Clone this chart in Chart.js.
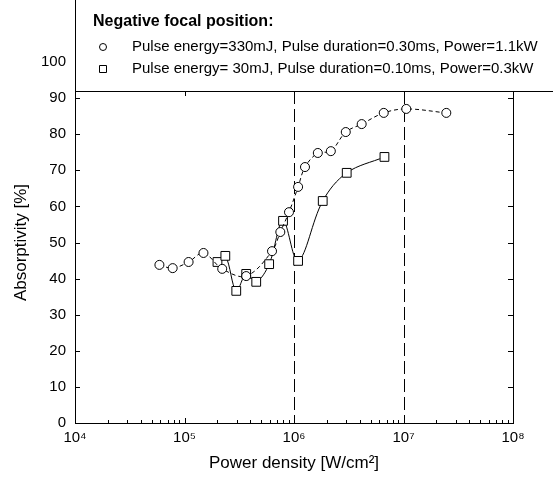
<!DOCTYPE html>
<html>
<head>
<meta charset="utf-8">
<script src="https://cdn.jsdelivr.net/npm/chart.js@4"></script>
<style>
  body { margin: 0; background: #fff; }
</style>
</head>
<body>
<canvas id="chart" width="553" height="482"></canvas>
<script>
// series 1: 330mJ / 0.30ms / 1.1kW (circles)
const circleX = [5.9e4, 7.8e4, 1.09e5, 1.49e5, 2.21e5, 3.66e5, 6.3e5, 7.5e5, 9.0e5, 1.09e6, 1.26e6, 1.65e6, 2.17e6, 2.97e6, 4.15e6, 6.6e6, 1.06e7, 2.46e7];
const circleY = [43.8, 42.9, 44.6, 47.1, 42.7, 40.7, 47.6, 52.9, 58.4, 65.4, 70.9, 74.8, 75.3, 80.6, 82.8, 85.9, 87.0, 85.9];
// series 2: 30mJ / 0.10ms / 0.3kW (squares)
const squareX = [2.0e5, 2.36e5, 2.97e5, 3.66e5, 4.52e5, 5.93e5, 7.94e5, 1.09e6, 1.83e6, 3.03e6, 6.7e6];
const squareY = [44.6, 46.3, 36.6, 41.3, 39.1, 44.0, 56.0, 44.9, 61.5, 69.3, 73.7];

const seriesLabels = [
    'Pulse energy=330mJ, Pulse duration=0.30ms, Power=1.1kW',
    'Pulse energy= 30mJ, Pulse duration=0.10ms, Power=0.3kW'
];
const legendTitle = 'Negative focal position:';

const xTicks = [1e4, 1e5, 1e6, 1e7, 1e8];
const xTickLabels = ['10\u2074', '10\u2075', '10\u2076', '10\u2077', '10\u2078'];
const yTicks = [0, 10, 20, 30, 40, 50, 60, 70, 80, 90, 100];
const markerLines = [1e6, 1e7];

Chart.defaults.font.family = '"Liberation Sans", Arial, sans-serif';
Chart.defaults.color = '#000';

const toPoints = (xs, ys) => xs.map((x, i) => ({x: x, y: ys[i]}));

const LEGEND_BOTTOM = 91;

const framePlugin = {
    id: 'frame',
    beforeDatasetsDraw(chart) {
        const ctx = chart.ctx;
        const a = chart.chartArea;
        const xs = chart.scales.x, ys = chart.scales.y;
        ctx.save();
        ctx.strokeStyle = '#000';
        ctx.lineWidth = 1;
        ctx.strokeRect(a.left + 0.5, a.top + 0.5, a.right - a.left, a.bottom - a.top);
        ctx.beginPath();
        // y ticks, inward on both sides
        yTicks.forEach(v => {
            const py = Math.round(ys.getPixelForValue(v)) + 0.5;
            ctx.moveTo(a.left, py); ctx.lineTo(a.left + 5, py);
            ctx.moveTo(a.right, py); ctx.lineTo(a.right - 5, py);
        });
        // x ticks, major and minor
        xTicks.forEach((v, i) => {
            const px = Math.round(xs.getPixelForValue(v)) + 0.5;
            ctx.moveTo(px, a.bottom); ctx.lineTo(px, a.bottom - 5);
            ctx.moveTo(px, LEGEND_BOTTOM); ctx.lineTo(px, LEGEND_BOTTOM + 5);
            if (i < xTicks.length - 1) {
                for (let m = 2; m < 10; m++) {
                    const mx = Math.round(xs.getPixelForValue(v * m)) + 0.5;
                    ctx.moveTo(mx, a.bottom); ctx.lineTo(mx, a.bottom - 3);
                }
            }
        });
        ctx.stroke();
        // dashed markers
        ctx.setLineDash([13, 5]);
        ctx.beginPath();
        markerLines.forEach(v => {
            const px = Math.round(xs.getPixelForValue(v)) + 0.5;
            ctx.moveTo(px, LEGEND_BOTTOM);
            ctx.lineTo(px, a.bottom);
        });
        ctx.stroke();
        ctx.restore();
    },
    afterDraw(chart) {
        const ctx = chart.ctx;
        const a = chart.chartArea;
        ctx.save();
        ctx.fillStyle = '#fff';
        ctx.fillRect(a.left, 0, chart.width - a.left, LEGEND_BOTTOM);
        ctx.strokeStyle = '#000';
        ctx.lineWidth = 1;
        ctx.beginPath();
        ctx.moveTo(a.left + 0.5, 0);
        ctx.lineTo(a.left + 0.5, LEGEND_BOTTOM + 0.5);
        ctx.lineTo(chart.width, LEGEND_BOTTOM + 0.5);
        ctx.stroke();
        ctx.fillStyle = '#000';
        ctx.textBaseline = 'middle';
        ctx.font = 'bold 16px "Liberation Sans", Arial, sans-serif';
        ctx.fillText(legendTitle, 93, 22);
        ctx.font = '15px "Liberation Sans", Arial, sans-serif';
        chart.data.datasets.forEach((ds, i) => {
            const y = 47 + i * 22;
            ctx.beginPath();
            if (ds.pointStyle === 'circle') {
                ctx.arc(103, y, 3.5, 0, Math.PI * 2);
            } else {
                ctx.rect(99.5, y - 3.5, 7, 7);
            }
            ctx.stroke();
            ctx.fillText(ds.label, 132, y);
        });
        ctx.restore();
    }
};

new Chart(document.getElementById('chart').getContext('2d'), {
    type: 'line',
    data: {
        datasets: [{
            label: seriesLabels[0],
            data: toPoints(circleX, circleY),
            borderColor: '#000',
            borderWidth: 1,
            borderDash: [4, 3],
            tension: 0.35,
            pointStyle: 'circle',
            pointRadius: 4.5,
            pointBackgroundColor: '#fff',
            pointBorderColor: '#000',
            pointBorderWidth: 1
        }, {
            label: seriesLabels[1],
            data: toPoints(squareX, squareY),
            borderColor: '#000',
            borderWidth: 1,
            tension: 0.35,
            pointStyle: 'rect',
            pointRadius: 6.2,
            pointBackgroundColor: '#fff',
            pointBorderColor: '#000',
            pointBorderWidth: 1
        }]
    },
    options: {
        responsive: false,
        animation: false,
        layout: { padding: { left: 0, right: 40, top: 62, bottom: 0 } },
        plugins: { legend: { display: false }, tooltip: { enabled: false } },
        scales: {
            x: {
                type: 'logarithmic',
                min: 1e4,
                max: 1e8,
                grid: { display: false, drawTicks: false },
                border: { display: false },
                afterBuildTicks: scale => { scale.ticks = xTicks.map(v => ({value: v})); },
                afterFit: scale => { scale.height = 59; },
                ticks: {
                    padding: 6,
                    maxRotation: 0,
                    font: { size: 15 },
                    callback: (v, i) => xTickLabels[i]
                },
                title: {
                    display: true,
                    text: 'Power density [W/cm\u00b2]',
                    font: { size: 17 },
                    padding: { top: 0, bottom: 8 }
                }
            },
            y: {
                min: 0,
                max: 100,
                grid: { display: false, drawTicks: false },
                border: { display: false },
                afterBuildTicks: scale => { scale.ticks = yTicks.map(v => ({value: v})); },
                afterFit: scale => { scale.width = 75; },
                ticks: { padding: 9, font: { size: 15 } },
                title: {
                    display: true,
                    text: 'Absorptivity [%]',
                    font: { size: 17 },
                    padding: { top: 11, bottom: 0 }
                }
            }
        }
    },
    plugins: [framePlugin]
});
</script>
</body>
</html>
